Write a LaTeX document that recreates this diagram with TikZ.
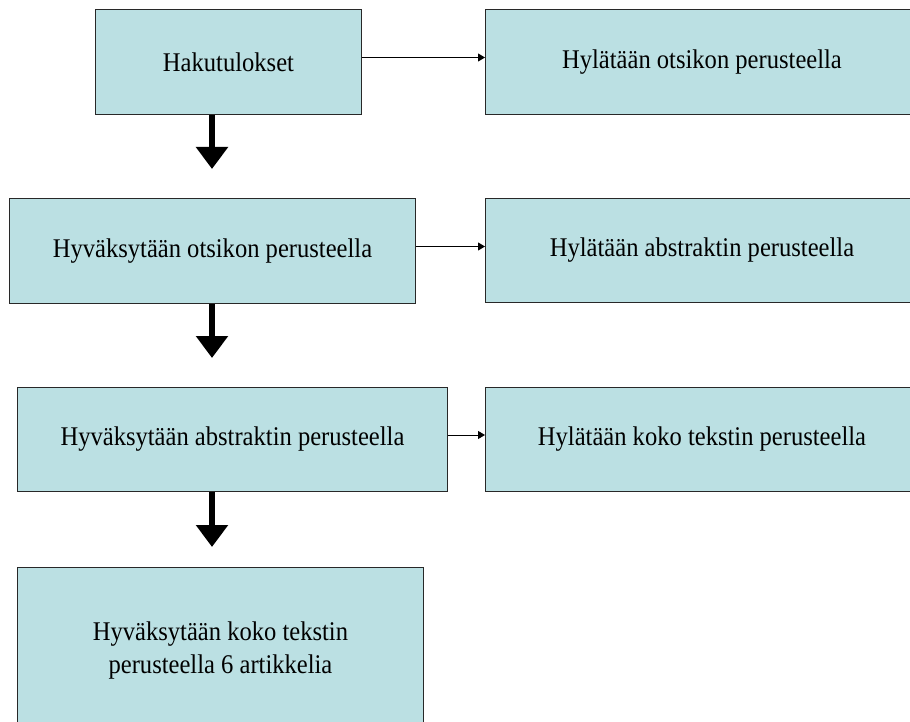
\documentclass[tikz,border=0pt]{standalone}
\usepackage{fontspec}
\setmainfont[FakeStretch=0.91]{Liberation Serif}
\usetikzlibrary{arrows.meta}
\definecolor{boxfill}{RGB}{187,224,227}
\definecolor{boxline}{RGB}{40,40,40}
\tikzset{
  stepbox/.style={draw=boxline, line width=1pt, fill=boxfill, anchor=north west,
    inner sep=0pt, align=center, font=\fontsize{27}{33}\selectfont},
  thinarrow/.style={draw=black, line width=1pt, -{Triangle[length=7pt,width=8pt]}},
  thickarrow/.style={draw=black, line width=6pt, -{Triangle[length=22pt,width=31pt]}}
}
\begin{document}
\begin{tikzpicture}[x=1pt,y=-1pt]
\useasboundingbox (0,0) rectangle (910,722);
\clip (0,0) rectangle (910,722);
\fill[white] (0,0) rectangle (910,722);
% left column
\node[stepbox, minimum width=266pt, minimum height=105pt] (b1) at (95,9) {Hakutulokset};
\node[stepbox, minimum width=406pt, minimum height=105pt] (b3) at (9,198) {Hyväksytään otsikon perusteella};
\node[stepbox, minimum width=430pt, minimum height=104pt] (b5) at (17,387) {Hyväksytään abstraktin perusteella};
\node[stepbox, minimum width=406pt, minimum height=166pt] (b7) at (17,567) {Hyväksytään koko tekstin\\perusteella 6 artikkelia};
% right column
\node[stepbox, minimum width=433pt, minimum height=105pt] (b2) at (485,9) {Hylätään otsikon perusteella};
\node[stepbox, minimum width=433pt, minimum height=104pt] (b4) at (485,198) {Hylätään abstraktin perusteella};
\node[stepbox, minimum width=433pt, minimum height=104pt] (b6) at (485,387) {Hylätään koko tekstin perusteella};
% thin arrows
\draw[thinarrow] ([yshift=4.5pt]b1.east) -- ([yshift=4.5pt]b1.east -| b2.west);
\draw[thinarrow] ([yshift=4.5pt]b3.east) -- ([yshift=4.5pt]b3.east -| b4.west);
\draw[thinarrow] ([yshift=4.5pt]b5.east) -- ([yshift=4.5pt]b5.east -| b6.west);
% thick arrows
\coordinate (t1) at (212,169);
\coordinate (t2) at (212,358);
\coordinate (t3) at (212,547);
\draw[thickarrow] (b1.south -| t1) -- (t1);
\draw[thickarrow] (b3.south -| t2) -- (t2);
\draw[thickarrow] (b5.south -| t3) -- (t3);
\end{tikzpicture}
\end{document}
